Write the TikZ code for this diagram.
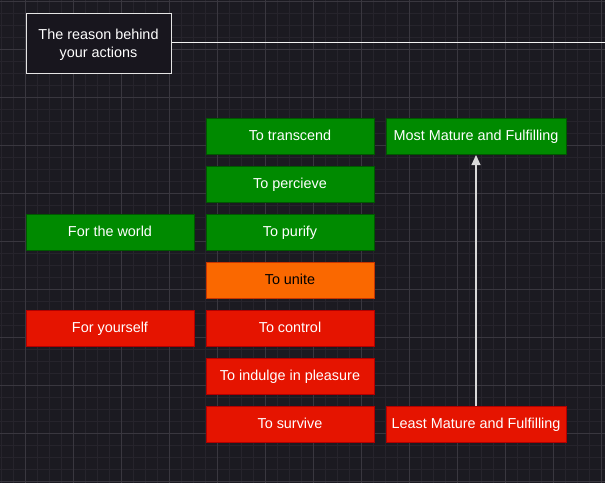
\documentclass[tikz,border=0pt]{standalone}
\usepackage{fontspec}
\setmainfont{Liberation Sans}
\usetikzlibrary{arrows.meta}
\definecolor{bg}{HTML}{1B1A21}
\definecolor{gminor}{HTML}{26242C}
\definecolor{gmajor}{HTML}{39373F}
\definecolor{gfill}{HTML}{008A00}
\definecolor{gline}{HTML}{005700}
\definecolor{ofill}{HTML}{FA6800}
\definecolor{oline}{HTML}{C73500}
\definecolor{rfill}{HTML}{E51400}
\definecolor{rline}{HTML}{B20000}
\definecolor{hdr}{HTML}{18161E}
\tikzset{
  box/.style={draw, line width=1pt, minimum height=36pt, minimum width=168pt, inner sep=0pt, text height=11.5pt, text depth=3pt, font=\fontsize{14.4}{17}\selectfont, anchor=north west},
  greenbox/.style={box, fill=gfill, draw=gline, text=white},
  redbox/.style={box, fill=rfill, draw=rline, text=white},
  orangebox/.style={box, fill=ofill, draw=oline, text=black},
}
\begin{document}
\begin{tikzpicture}[x=1pt,y=-1pt]
\fill[bg] (0,0) rectangle (605,483);
\useasboundingbox (0,0) rectangle (605,483);
\foreach \i in {0,...,50} {
  \draw[gminor, line width=0.6pt] ({1+12*\i},0) -- ({1+12*\i},483);
}
\foreach \i in {0,...,40} {
  \draw[gminor, line width=0.6pt] (0,{1+12*\i}) -- (605,{1+12*\i});
}
\foreach \i in {0,...,12} {
  \draw[gmajor, line width=0.8pt] ({25+48*\i},0) -- ({25+48*\i},483);
}
\foreach \i in {0,...,10} {
  \draw[gmajor, line width=0.8pt] (0,{1+48*\i}) -- (605,{1+48*\i});
}
% header
\node[draw=white!90!black, fill=hdr, line width=1pt, text=white, minimum width=145pt, minimum height=60pt, inner sep=0pt, anchor=north west, align=center, font=\fontsize{14.4}{18}\selectfont] (hdr) at (25.5,13) {\rule{0pt}{12.5pt}The reason behind\\[0pt]your actions};
\coordinate (lineend) at (605,42.5);
\draw[white!95!black, line width=1.2pt] (hdr.east |- lineend) -- (lineend);
% column 2
\node[greenbox] (transcend) at (205.5,118) {To transcend};
\node[greenbox] (percieve) at (205.5,166) {To percieve};
\node[greenbox] (purify) at (205.5,214) {To purify};
\node[orangebox] (unite) at (205.5,262) {To unite};
\node[redbox] (control) at (205.5,310) {To control};
\node[redbox] (indulge) at (205.5,358) {To indulge in pleasure};
\node[redbox] (survive) at (205.5,406) {To survive};
% column 1
\node[greenbox] (world) at (25.5,214) {For the world};
\node[redbox] (yourself) at (25.5,310) {For yourself};
% column 3
\node[greenbox, minimum width=180pt] (most) at (385.5,118) {Most Mature and Fulfilling};
\node[redbox, minimum width=180pt] (least) at (385.5,406) {Least Mature and Fulfilling};
\draw[white!85!black, line width=1.2pt, -{Triangle[length=10pt,width=9pt]}] (least.north) -- (most.south);
\end{tikzpicture}
\end{document}
